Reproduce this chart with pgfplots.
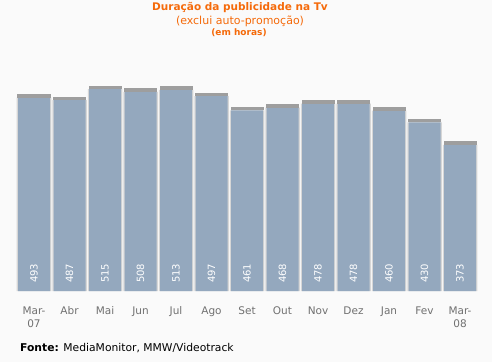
\documentclass[border=0pt]{standalone}
\usepackage{pgfplots}
\pgfplotsset{compat=1.18}
\usepackage{pgfplotstable}
\usepackage{fontspec}
\setmainfont{DejaVu Sans}
\definecolor{bg}{HTML}{FAFAFA}
\definecolor{barblue}{HTML}{94A8BE}
\definecolor{orangeT}{HTML}{F56A0A}
\definecolor{tickgray}{HTML}{707070}
\pgfplotstableread{
x y
0 493
1 487
2 515
3 508
4 513
5 497
6 461
7 468
8 478
9 478
10 460
11 430
12 373
}\datatable
\begin{document}
\begin{tikzpicture}
\fill[bg] (-16.25bp,-71bp) rectangle (475.75bp,291bp);
\path[use as bounding box] (-16.25bp,-71bp) rectangle (475.75bp,291bp);
\begin{axis}[
  scale only axis,
  width=461.5bp, height=235.2bp,
  xmin=-0.5, xmax=12.5, ymin=0, ymax=600,
  axis line style={draw=none},
  major tick length=0pt,
  ytick=\empty,
  xtick={0,...,12},
  xticklabels={Mar-\\07,Abr,Mai,Jun,Jul,Ago,Set,Out,Nov,Dez,Jan,Fev,Mar-\\08},
  xticklabel style={align=center, font=\fontsize{10.5bp}{13bp}\selectfont, text=tickgray, yshift=-12bp},
  /pgf/number format/assume math mode=true,
  clip=false,
]
\addplot[ybar, bar width=34.5bp, bar shift=0pt, fill=black!16, draw=none] table[x=x,y=y] {\datatable};
\addplot[ybar, bar width=32bp, bar shift=0pt, fill=barblue, draw=none] table[x=x,y=y] {\datatable};
\addplot[only marks, mark=-, mark size=16.5bp, mark options={line width=3.5bp, draw=black!38, yshift=1.75bp}] table[x=x,y=y] {\datatable};
\addplot[draw=none, mark=none, nodes near coords, point meta=\thisrow{y},
  nodes near coords style={font=\fontsize{10bp}{12bp}\selectfont, text=white, yshift=8bp, rotate=90, anchor=west, inner sep=0pt}]
  table[x=x, y expr=0] {\datatable};
\end{axis}
\node[text=orangeT, font=\bfseries\fontsize{10.5bp}{12bp}\selectfont] at (223.75bp,283bp) {Duração da publicidade na Tv};
\node[text=orangeT, font=\fontsize{11bp}{13bp}\selectfont] at (223.75bp,270bp) {(exclui auto-promoção)};
\node[text=orangeT, font=\bfseries\fontsize{9bp}{10bp}\selectfont] at (222.75bp,258bp) {(em horas)};
\node[anchor=west, inner sep=0pt, font=\fontsize{10.75bp}{12bp}\selectfont] at (3.75bp,-57bp) {\textbf{Fonte:} MediaMonitor, MMW/Videotrack};
\end{tikzpicture}
\end{document}
